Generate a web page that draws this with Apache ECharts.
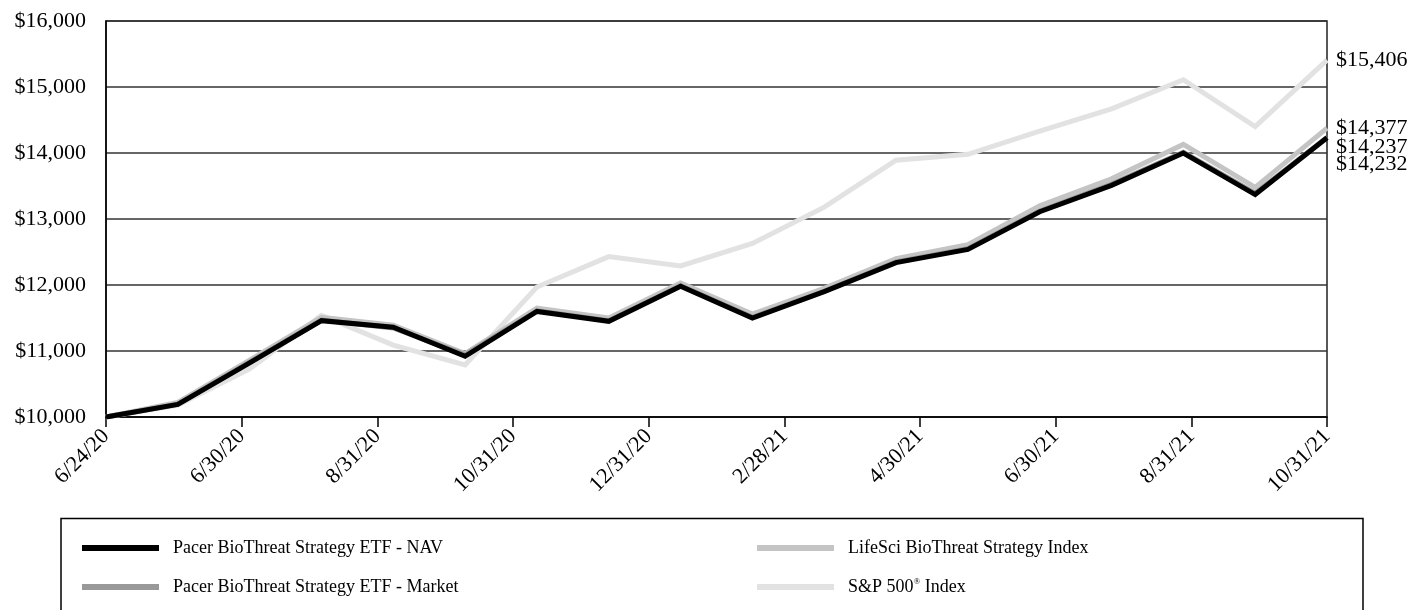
<!DOCTYPE html>
<html>
<head>
<meta charset="utf-8">
<title>Pacer BioThreat Strategy ETF - growth of $10,000</title>
<script src="https://cdn.jsdelivr.net/npm/echarts@6/dist/echarts.min.js"></script>
<style>
  html, body { margin: 0; padding: 0; background: #fff; }
  #chart { width: 1412px; height: 610px; }
</style>
</head>
<body>
<div id="chart"></div>
<script>
  // month-end dates of the data points
  var dates = ['6/24/20', '6/30/20', '7/31/20', '8/31/20', '9/30/20', '10/31/20', '11/30/20', '12/31/20',
    '1/31/21', '2/28/21', '3/31/21', '4/30/21', '5/31/21', '6/30/21', '7/31/21', '8/31/21', '9/30/21', '10/31/21'];
  // labels printed under the axis (spaced on their own, as in the report)
  var tickLabels = ['6/24/20', '6/30/20', '8/31/20', '10/31/20', '12/31/20', '2/28/21', '4/30/21', '6/30/21', '8/31/21', '10/31/21'];

  var navValues = [10000, 10190, 10820, 11460, 11360, 10920, 11600, 11450, 11980, 11500, 11900, 12340, 12540, 13110, 13510, 14000, 13370, 14232];
  var marketValues = [10000, 10195, 10830, 11470, 11350, 10940, 11610, 11460, 11990, 11510, 11905, 12350, 12550, 13120, 13530, 14010, 13390, 14237];
  var indexValues = [10000, 10220, 10860, 11510, 11390, 10960, 11650, 11500, 12030, 11560, 11950, 12400, 12610, 13200, 13610, 14130, 13480, 14377];
  var spValues = [10000, 10180, 10730, 11540, 11090, 10790, 11970, 12430, 12290, 12630, 13180, 13890, 13980, 14330, 14670, 15110, 14400, 15406];

  var names = {
    nav: 'Pacer BioThreat Strategy ETF - NAV',
    market: 'Pacer BioThreat Strategy ETF - Market',
    index: 'LifeSci BioThreat Strategy Index',
    sp: 'S&P 500® Index'
  };

  var FONT = 'Liberation Serif';

  function money(v) {
    return '$' + Number(v).toLocaleString('en-US');
  }

  function lineSeries(name, data, color, z, dy) {
    return {
      name: name,
      type: 'line',
      xAxisIndex: 0,
      data: data,
      z: z,
      symbol: 'none',
      lineStyle: { color: color, width: 5, join: 'miter' },
      itemStyle: { color: color },
      emphasis: { disabled: true },
      endLabel: {
        show: true,
        distance: 9,
        offset: [0, dy],
        color: '#000',
        fontFamily: FONT,
        fontSize: 22,
        formatter: function (p) { return money(p.value); }
      }
    };
  }

  var myChart = echarts.init(document.getElementById('chart'));

  var legendText = {
    color: '#000',
    fontFamily: FONT,
    fontSize: 18,
    lineHeight: 20,
    padding: [0, 0, 0, 9],
    rich: {
      sup: { fontFamily: FONT, fontSize: 9, verticalAlign: 'top', padding: [0, 0, 8, 0], color: '#000' }
    }
  };

  function legendFormatter(n) {
    return n === names.sp ? 'S&P 500{sup|®} Index' : n;
  }

  myChart.setOption({
    animation: false,
    grid: {
      left: 106,
      right: 85,
      top: 21,
      bottom: 193,
      show: true,
      borderColor: '#222',
      borderWidth: 1.5
    },
    legend: [
      {
        left: 82,
        top: 538,
        padding: 0,
        orient: 'vertical',
        itemWidth: 77,
        itemHeight: 6,
        itemGap: 19,
        icon: 'rect',
        selectedMode: false,
        data: [names.nav, names.market],
        textStyle: legendText,
        formatter: legendFormatter
      },
      {
        left: 757,
        top: 538,
        padding: 0,
        orient: 'vertical',
        itemWidth: 77,
        itemHeight: 6,
        itemGap: 19,
        icon: 'rect',
        selectedMode: false,
        data: [names.index, names.sp],
        textStyle: legendText,
        formatter: legendFormatter
      }
    ],
    graphic: [
      {
        type: 'rect',
        shape: { x: 61, y: 518.5, width: 1302, height: 200 },
        style: { fill: 'none', stroke: '#000', lineWidth: 1.5 },
        silent: true
      }
    ],
    xAxis: [
      {
        type: 'category',
        data: dates,
        boundaryGap: false,
        show: false
      },
      {
        type: 'category',
        data: tickLabels,
        boundaryGap: false,
        position: 'bottom',
        axisLine: { show: true, lineStyle: { color: '#000', width: 1.5 } },
        axisTick: { show: true, length: 10, lineStyle: { color: '#000', width: 1.5 } },
        axisLabel: {
          rotate: 45,
          margin: 16,
          interval: 0,
          color: '#000',
          fontFamily: FONT,
          fontSize: 22
        },
        splitLine: { show: false }
      }
    ],
    yAxis: {
      type: 'value',
      min: 10000,
      max: 16000,
      interval: 1000,
      axisLine: { show: true, lineStyle: { color: '#000', width: 1.5 } },
      axisTick: { show: false },
      axisLabel: {
        margin: 20,
        color: '#000',
        fontFamily: FONT,
        fontSize: 22,
        formatter: money
      },
      splitLine: { show: true, lineStyle: { color: '#333', width: 1.5 } }
    },
    series: [
      lineSeries(names.sp, spValues, '#e2e2e2', 2, 0),
      lineSeries(names.index, indexValues, '#c4c4c4', 3, 0),
      lineSeries(names.market, marketValues, '#999999', 4, 10),
      lineSeries(names.nav, navValues, '#000000', 5, 27)
    ]
  });

  window.addEventListener('resize', function () {
    myChart.resize();
  });
</script>
</body>
</html>
